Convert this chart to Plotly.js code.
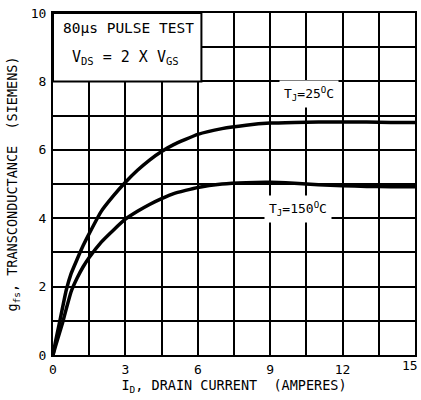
<!DOCTYPE html>
<html>
<head>
<meta charset="utf-8">
<script src="https://cdn.plot.ly/plotly-3.0.1.min.js"></script>
<style>html,body{margin:0;padding:0;background:#fff;}#chart{width:421px;height:400px;}</style>
</head>
<body>
<div id="chart"></div>
<script>
// Drain current (A)
var current = [0, 0.1, 0.25, 0.4, 0.55, 0.75, 1, 1.25, 1.5, 2, 2.5, 3, 3.5, 4, 4.5, 5, 6, 7, 8, 9, 10, 11, 12, 13, 14, 15];
// Transconductance (S), Tj = 25 C
var gfs25 = [0, 0.38, 0.88, 1.4, 1.9, 2.38, 2.8, 3.2, 3.55, 4.2, 4.65, 5.05, 5.4, 5.7, 5.95, 6.15, 6.45, 6.62, 6.72, 6.78, 6.8, 6.81, 6.81, 6.81, 6.8, 6.8];
// Transconductance (S), Tj = 150 C
var gfs150 = [0, 0.25, 0.6, 0.95, 1.35, 1.85, 2.25, 2.58, 2.85, 3.3, 3.65, 3.97, 4.2, 4.4, 4.57, 4.72, 4.9, 5.0, 5.04, 5.05, 5.02, 4.98, 4.95, 4.93, 4.92, 4.92];

var xTickVals = [0, 3, 6, 9, 12, 15];
var xTickText = ["0", "3", "6", "9", "12", "15"];
var yTickVals = [0, 2, 4, 6, 8, 10];
var yTickText = ["0", "2", "4", "6", "8", "10"];

var FONT = "DejaVu Sans Mono, monospace";

// the last x tick label sits at the page edge; draw it as an annotation nudged inward
var lastIdx = xTickVals.length - 1;
var axisTickVals = xTickVals.slice(0, lastIdx);
var axisTickText = xTickText.slice(0, lastIdx);

var traces = [
  {x: current, y: gfs25, mode: "lines", line: {color: "#000", width: 3.5, shape: "spline", smoothing: 0.4}, hoverinfo: "skip"},
  {x: current, y: gfs150, mode: "lines", line: {color: "#000", width: 3.5, shape: "spline", smoothing: 0.4}, hoverinfo: "skip"}
];

var layout = {
  width: 421, height: 400,
  margin: {l: 53, r: 6, t: 13, b: 45},
  paper_bgcolor: "#fff", plot_bgcolor: "#fff",
  showlegend: false,
  font: {family: FONT, color: "#000", size: 12},
  xaxis: {
    range: [0, 15], tickmode: "array", tickvals: axisTickVals, ticktext: axisTickText,
    showgrid: true, gridcolor: "#000", gridwidth: 2, zeroline: false,
    minor: {dtick: 1.5, tick0: 0, showgrid: true, gridcolor: "#000", gridwidth: 2, ticks: ""},
    showline: true, linecolor: "#000", linewidth: 2, mirror: true, ticks: "",
    tickfont: {family: FONT, size: 13}, ticklabelstandoff: 1,
    title: {text: "I<sub>D</sub>, DRAIN CURRENT  (AMPERES)", font: {family: FONT, size: 13.5}, standoff: 5}
  },
  yaxis: {
    range: [0, 10], tickmode: "array", tickvals: yTickVals, ticktext: yTickText,
    showgrid: true, gridcolor: "#000", gridwidth: 2, zeroline: false,
    minor: {dtick: 1, tick0: 0, showgrid: true, gridcolor: "#000", gridwidth: 2, ticks: ""},
    showline: true, linecolor: "#000", linewidth: 2, mirror: true, ticks: "",
    tickfont: {family: FONT, size: 13}, ticklabelstandoff: 2, ticklabeloverflow: "allow",
    title: {text: "g<sub>fs</sub>, TRANSCONDUCTANCE  (SIEMENS)", font: {family: FONT, size: 13.5}, standoff: 10}
  },
  shapes: [
    {type: "rect", xref: "x", yref: "y", x0: 0, x1: 6.15, y0: 8, y1: 10, fillcolor: "#fff", line: {color: "#000", width: 2}, layer: "above"}
  ],
  annotations: [
    {x: xTickVals[lastIdx], y: 0, xref: "x", yref: "paper", xanchor: "center", yanchor: "top", yshift: -1, xshift: -5,
     showarrow: false, text: xTickText[lastIdx], font: {family: FONT, size: 13}},
    {x: 0.35, y: 9.55, xref: "x", yref: "y", xanchor: "left", yanchor: "middle", showarrow: false,
     text: "80µs PULSE TEST", font: {family: FONT, size: 14.5}},
    {x: 0.7, y: 8.7, xref: "x", yref: "y", xanchor: "left", yanchor: "middle", showarrow: false,
     text: "V<sub>DS</sub> = 2 X V<sub>GS</sub>", font: {family: FONT, size: 15}},
    {x: 10.6, y: 7.62, xref: "x", yref: "y", xanchor: "center", yanchor: "middle", showarrow: false,
     text: "T<sub>J</sub>=25<sup>O</sup>C", font: {family: FONT, size: 13}, bgcolor: "#fff", borderpad: 4},
    {x: 10.15, y: 4.28, xref: "x", yref: "y", xanchor: "center", yanchor: "middle", showarrow: false,
     text: "T<sub>J</sub>=150<sup>O</sup>C", font: {family: FONT, size: 13}, bgcolor: "#fff", borderpad: 4}
  ]
};

Plotly.newPlot("chart", traces, layout, {staticPlot: true, displayModeBar: false});
</script>
</body>
</html>
